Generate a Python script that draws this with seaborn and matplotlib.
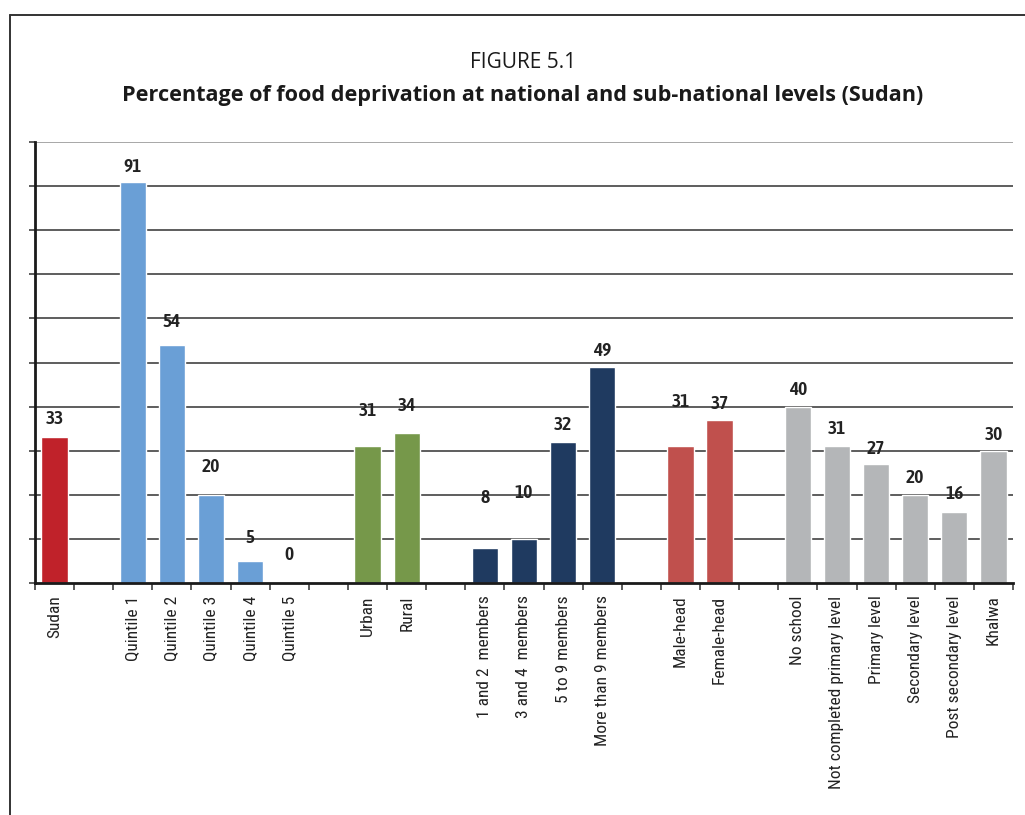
import matplotlib
matplotlib.use("Agg")
import matplotlib.pyplot as plt
from matplotlib import font_manager
from matplotlib.font_manager import FontProperties
from matplotlib.lines import Line2D
import seaborn as sns
import pandas as pd

# ---- data -------------------------------------------------------------
national = ["Sudan"]
national_vals = [33]
quintiles = ["Quintile 1", "Quintile 2", "Quintile 3", "Quintile 4", "Quintile 5"]
quintile_vals = [91, 54, 20, 5, 0]
residence = ["Urban", "Rural"]
residence_vals = [31, 34]
household = ["1 and 2  members", "3 and 4  members", "5 to 9 members", "More than 9 members"]
household_vals = [8, 10, 32, 49]
head_sex = ["Male-head", "Female-head"]
head_sex_vals = [31, 37]
education = ["No school", "Not completed primary level", "Primary level",
             "Secondary level", "Post secondary level", "Khalwa"]
education_vals = [40, 31, 27, 20, 16, 30]

# height (in axis units) at which each value label sits
label_heights = [37.1,
                 94.4, 59.1, 26.3, 10.2, 6.3,
                 38.9, 40.1,
                 19.2, 20.4, 35.8, 52.5,
                 41.0, 40.5,
                 43.7, 34.9, 30.3, 23.8, 20.1, 33.5]

groups = [
    ("national", national, national_vals, "#c0222a"),
    ("quintile", quintiles, quintile_vals, "#6a9fd6"),
    ("residence", residence, residence_vals, "#76984a"),
    ("household", household, household_vals, "#1f3a60"),
    ("sex", head_sex, head_sex_vals, "#c0504d"),
    ("education", education, education_vals, "#b4b6b8"),
]

# ---- build the ordered category list with spacer slots between groups --
rows, order, palette = [], [], {}
for gi, (gname, labels, vals, color) in enumerate(groups):
    if gi > 0:
        order.append(" " * gi)  # unique empty spacer slot
    for lab, v in zip(labels, vals):
        rows.append({"label": lab, "value": v, "group": gname})
        order.append(lab)
    palette[gname] = color
df = pd.DataFrame(rows)


# ---- fonts: look for a condensed sans face for the axis texts ---------
def _stretch_val(s):
    if isinstance(s, (int, float)):
        return s
    table = {"ultra-condensed": 100, "extra-condensed": 200, "condensed": 300,
             "semi-condensed": 400, "normal": 500, "semi-expanded": 600,
             "expanded": 700, "extra-expanded": 800, "ultra-expanded": 900}
    return table.get(str(s), 500)


def _weight_val(w):
    if isinstance(w, (int, float)):
        return w
    table = {"ultralight": 100, "light": 300, "normal": 400, "regular": 400,
             "book": 400, "medium": 500, "roman": 400, "semibold": 600,
             "demibold": 600, "demi": 600, "bold": 700, "heavy": 800,
             "extra bold": 800, "black": 900}
    return table.get(str(w).lower(), 400)


def find_condensed(target_weight):
    prefs = ["Liberation Sans Narrow", "Arial Narrow", "Roboto Condensed",
             "Noto Sans", "Noto Sans Condensed", "Open Sans", "Open Sans Condensed",
             "DejaVu Sans", "DejaVu Sans Condensed"]
    best, best_key = None, None
    for f in font_manager.fontManager.ttflist:
        name = f.name
        fname = f.fname.lower()
        narrowish = ("narrow" in name.lower() or "condensed" in name.lower()
                     or "narrow" in fname or "condensed" in fname
                     or _stretch_val(f.stretch) < 500)
        if not narrowish or f.style != "normal":
            continue
        if "extra" in fname or "ultra" in fname or "semicondensed" in fname.replace("-", ""):
            stretch_pen = 1
        else:
            stretch_pen = 0
        rank = prefs.index(name) if name in prefs else len(prefs)
        key = (stretch_pen, abs(_weight_val(f.weight) - target_weight), rank)
        if best_key is None or key < best_key:
            best, best_key = f, key
    if best is None:
        return None
    return best.fname


reg_path = find_condensed(400)
bold_path = find_condensed(600)


def narrow_props(size, path):
    if path:
        return FontProperties(fname=path, size=size)
    return FontProperties(family="DejaVu Sans", size=size)


sns.set_theme(style="white")
plt.rcParams["font.family"] = ["Open Sans", "DejaVu Sans"]

fig = plt.figure(figsize=(10.25, 8.15), dpi=100)
ax = fig.add_axes([35 / 1025, 1 - 583 / 815, (1013 - 35) / 1025, (583 - 142) / 815])

sns.barplot(data=df, x="label", y="value", hue="group", order=order,
            palette=palette, dodge=False, width=0.67, saturation=1,
            legend=False, ax=ax, zorder=3)

ax.set_xlim(-0.5, len(order) - 0.5)
ax.set_ylim(0, 100)

# horizontal gridlines every 10
for yv in range(10, 101, 10):
    ax.axhline(yv, color="#a0a0a0" if yv == 100 else "#505050", lw=1.3, zorder=1)

# axes spines
for s in ["top", "right"]:
    ax.spines[s].set_visible(False)
for s in ["left", "bottom"]:
    ax.spines[s].set_color("#1a1a1a")
    ax.spines[s].set_linewidth(2.0)
ax.spines["bottom"].set_zorder(4)

# y ticks: short marks, no labels
ax.set_yticks(range(0, 101, 10))
ax.set_yticklabels([])
ax.tick_params(axis="y", which="major", length=4, width=1.2, color="#404040",
               direction="out", left=True)

# x tick labels at slot centres, tick marks on slot boundaries
ax.set_xticks(range(len(order)))
ax.set_xticklabels([o if o.strip() else "" for o in order], rotation=90,
                   color="#222222")
lab_fp = narrow_props(12.5, reg_path)
for t in ax.get_xticklabels():
    t.set_fontproperties(lab_fp)
    t.set_verticalalignment("top")
ax.tick_params(axis="x", which="major", length=0, pad=9)
ax.set_xticks([i + 0.5 for i in range(-1, len(order))], minor=True)
ax.tick_params(axis="x", which="minor", length=5, width=1.2, color="#404040",
               direction="out", bottom=True)
ax.set_xlabel("")
ax.set_ylabel("")

# value labels
val_fp = narrow_props(14, bold_path)
positions = [order.index(lab) for _, labels, _, _ in groups for lab in labels]
values = [v for _, _, vals, _ in groups for v in vals]
for x, v, h in zip(positions, values, label_heights):
    ax.text(x, h, f"{v}", ha="center", va="center", fontproperties=val_fp,
            color="#222222", zorder=5)

# titles
fig.text(523 / 1025, 1 - 63 / 815, "FIGURE 5.1", ha="center", va="center",
         fontsize=15, color="#1a1a1a")
fig.text(523 / 1025, 1 - 95 / 815,
         "Percentage of food deprivation at national and sub-national levels (Sudan)",
         ha="center", va="center", fontsize=15.6, fontweight="bold", color="#1a1a1a")

# outer frame (top and left rules)
fig.add_artist(Line2D([10 / 1025, 10 / 1025], [0, 1 - 15 / 815],
                      transform=fig.transFigure, color="#333333", lw=1.4))
fig.add_artist(Line2D([10 / 1025, 1], [1 - 15 / 815, 1 - 15 / 815],
                      transform=fig.transFigure, color="#333333", lw=1.4))

fig.savefig("out.png", dpi=100, facecolor="white")
